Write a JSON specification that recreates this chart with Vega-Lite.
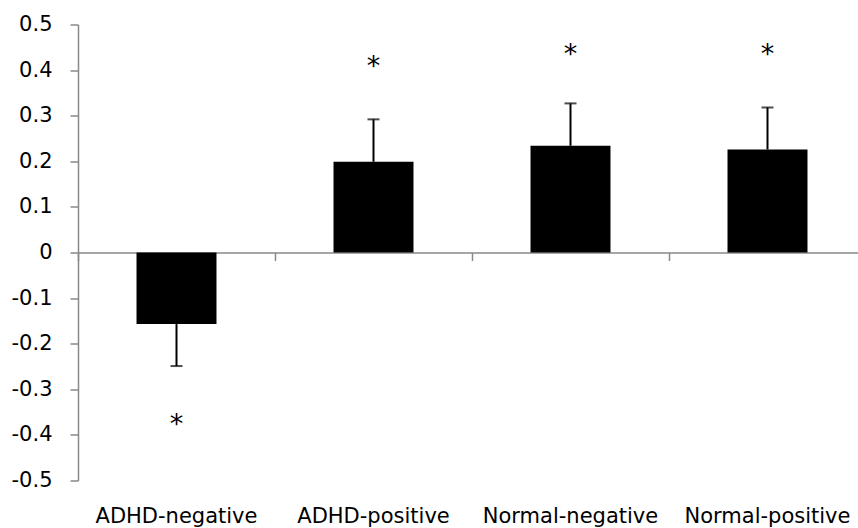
{
  "$schema": "https://vega.github.io/schema/vega-lite/v6.json",
  "autosize": {"type": "none"},
  "padding": {"left": 78, "top": 24.5, "right": 0, "bottom": 47.5},
  "width": 780,
  "height": 456,
  "background": "white",
  "config": {"view": {"stroke": null}},
  "data": {
    "values": [
      {"group": "ADHD-negative", "value": -0.157, "err": -0.249, "star": -0.366},
      {"group": "ADHD-positive", "value": 0.199, "err": 0.292, "star": 0.42},
      {"group": "Normal-negative", "value": 0.234, "err": 0.327, "star": 0.447},
      {"group": "Normal-positive", "value": 0.226, "err": 0.318, "star": 0.446}
    ]
  },
  "layer": [
    {
      "mark": {"type": "bar", "color": "black", "width": {"band": 0.406}},
      "encoding": {
        "x": {
          "field": "group", "type": "nominal", "sort": null,
          "scale": {"type": "band", "range": [0, 788], "paddingInner": 0, "paddingOuter": 0},
          "axis": {
            "title": null, "orient": "bottom", "offset": -228, "bandPosition": 0,
            "tickSize": 8, "tickColor": "#898989", "tickWidth": 1.5,
            "domainColor": "#898989", "domainWidth": 1.5,
            "labelFont": "DejaVu Sans", "labelFontSize": 21, "labelColor": "black",
            "labelPadding": 261.5, "labelBaseline": "alphabetic", "labelAngle": 0,
            "labelOverlap": false, "labelFlush": false, "labelBound": false
          }
        },
        "y": {
          "field": "value", "type": "quantitative",
          "scale": {"domain": [-0.5, 0.5], "nice": false, "zero": false},
          "axis": {
            "title": null, "grid": false,
            "values": [-0.5, -0.4, -0.3, -0.2, -0.1, 0, 0.1, 0.2, 0.3, 0.4, 0.5],
            "tickSize": 8, "tickColor": "#898989", "tickWidth": 1.5,
            "domainColor": "#898989", "domainWidth": 1.5,
            "labelPadding": 18, "labelFont": "DejaVu Sans", "labelFontSize": 21,
            "labelColor": "black", "labelFlush": false, "labelOverlap": false,
            "labelExpr": "datum.value < 0 ? '-' + format(-datum.value, '.1~f') : format(datum.value, '.1~f')"
          }
        }
      }
    },
    {
      "mark": {"type": "rule", "color": "black", "strokeWidth": 2},
      "encoding": {
        "x": {"field": "group", "type": "nominal", "sort": null},
        "y": {"field": "value", "type": "quantitative"},
        "y2": {"field": "err"}
      }
    },
    {
      "mark": {"type": "tick", "color": "black", "orient": "horizontal", "size": 12, "thickness": 2},
      "encoding": {
        "x": {"field": "group", "type": "nominal", "sort": null},
        "y": {"field": "err", "type": "quantitative"}
      }
    },
    {
      "mark": {"type": "text", "text": "*", "font": "DejaVu Sans", "fontSize": 27, "baseline": "alphabetic", "dy": 14, "color": "black"},
      "encoding": {
        "x": {"field": "group", "type": "nominal", "sort": null},
        "y": {"field": "star", "type": "quantitative"}
      }
    }
  ]
}
